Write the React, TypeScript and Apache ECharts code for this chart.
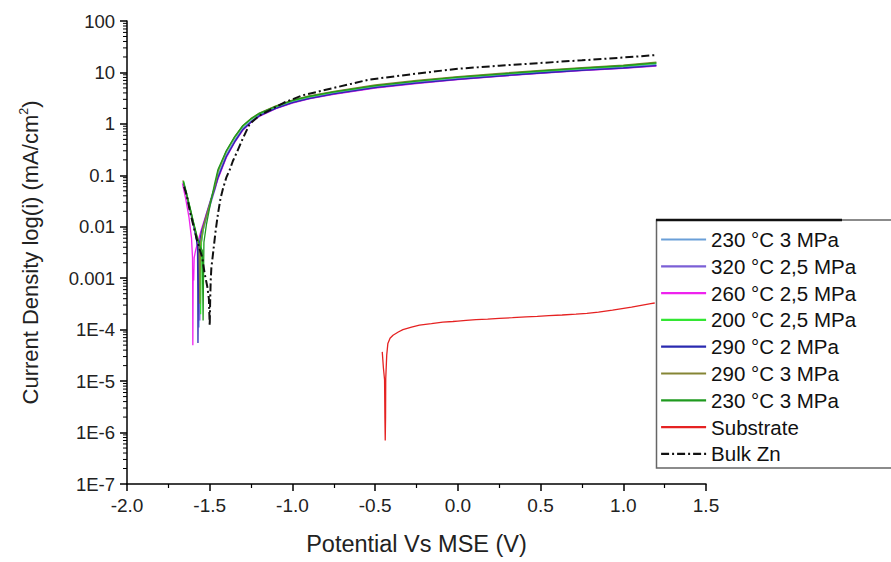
import React, { useEffect, useRef } from "react";
import * as echarts from "echarts";

// ---------- data ----------
const xTickMin = -2.0;
const xTickMax = 1.5;
const xTickStep = 0.5;
const yTickLabels: Record<string, string> = {
  "-7": "1E-7", "-6": "1E-6", "-5": "1E-5", "-4": "1E-4", "-3": "0.001",
  "-2": "0.01", "-1": "0.1", "0": "1", "1": "10", "2": "100",
};
const yMinorMultipliers = [2, 3, 4, 5, 6, 7, 8, 9];
const yDecades = [1e-7, 1e-6, 1e-5, 1e-4, 1e-3, 1e-2, 1e-1, 1, 10];

const upperPotential = [-1.45, -1.40, -1.35, -1.30, -1.25, -1.20, -1.10, -1.00, -0.90, -0.75, -0.50, -0.25, 0.00, 0.25, 0.50, 0.75, 1.00, 1.20];

const lightBlueLower: [number, number][] = [[-1.660, 0.072], [-1.640, 0.04], [-1.620, 0.021], [-1.600, 0.011], [-1.585, 0.0068], [-1.572, 0.0042], [-1.567, 0.0009], [-1.565, 0.00011], [-1.563, 0.0008], [-1.560, 0.0045], [-1.545, 0.0085], [-1.52, 0.018], [-1.49, 0.038], [-1.47, 0.06]];
const lightBlueUpper = [0.1, 0.25, 0.48, 0.82, 1.15, 1.5, 2.1, 2.7, 3.25, 4.0, 5.3, 6.5, 7.7, 8.9, 10.2, 11.5, 12.8, 14.3];

const purpleLower: [number, number][] = [[-1.655, 0.065], [-1.635, 0.036], [-1.615, 0.019], [-1.595, 0.01], [-1.578, 0.0055], [-1.566, 0.0035], [-1.562, 0.0007], [-1.560, 0.00015], [-1.558, 0.0009], [-1.555, 0.004], [-1.54, 0.0085], [-1.51, 0.019], [-1.48, 0.04], [-1.465, 0.058]];
const purpleUpper = [0.09, 0.23, 0.45, 0.78, 1.1, 1.44, 2.02, 2.6, 3.13, 3.85, 5.1, 6.25, 7.4, 8.55, 9.8, 11.05, 12.3, 13.7];

const magentaLower: [number, number][] = [[-1.665, 0.07], [-1.645, 0.035], [-1.625, 0.015], [-1.610, 0.006], [-1.604, 0.0025], [-1.603, 0.0008], [-1.602, 0.00005], [-1.600, 0.0015], [-1.597, 0.0009], [-1.594, 0.0025], [-1.585, 0.0035], [-1.572, 0.005], [-1.55, 0.009], [-1.52, 0.018], [-1.49, 0.036], [-1.47, 0.055]];
const magentaUpper = [0.085, 0.22, 0.43, 0.75, 1.07, 1.4, 1.97, 2.54, 3.06, 3.77, 4.98, 6.1, 7.25, 8.4, 9.6, 10.8, 12.0, 13.3];

const lightGreenLower: [number, number][] = [[-1.658, 0.078], [-1.638, 0.043], [-1.618, 0.023], [-1.598, 0.012], [-1.580, 0.0068], [-1.560, 0.0038], [-1.557, 0.0008], [-1.555, 0.0002], [-1.553, 0.001], [-1.550, 0.005], [-1.535, 0.0105], [-1.51, 0.021], [-1.48, 0.045], [-1.465, 0.066]];
const lightGreenUpper = [0.12, 0.29, 0.54, 0.9, 1.24, 1.57, 2.17, 2.8, 3.37, 4.15, 5.5, 6.75, 8.0, 9.2, 10.5, 11.9, 13.3, 15.0];

const blueLower: [number, number][] = [[-1.656, 0.068], [-1.636, 0.037], [-1.616, 0.02], [-1.596, 0.0105], [-1.582, 0.0062], [-1.574, 0.004], [-1.572, 0.0006], [-1.571, 0.000055], [-1.569, 0.0005], [-1.566, 0.0042], [-1.55, 0.008], [-1.52, 0.017], [-1.49, 0.035], [-1.47, 0.055]];
const blueUpper = [0.09, 0.23, 0.44, 0.77, 1.09, 1.43, 2.0, 2.58, 3.1, 3.82, 5.05, 6.2, 7.35, 8.5, 9.75, 11.0, 12.2, 13.6];

const oliveLower: [number, number][] = [[-1.662, 0.08], [-1.642, 0.045], [-1.622, 0.025], [-1.602, 0.013], [-1.582, 0.0072], [-1.565, 0.0045], [-1.562, 0.0012], [-1.560, 0.00032], [-1.558, 0.0014], [-1.555, 0.005], [-1.54, 0.0098], [-1.51, 0.021], [-1.48, 0.046], [-1.465, 0.068]];
const oliveUpper = [0.12, 0.29, 0.55, 0.92, 1.28, 1.62, 2.25, 2.9, 3.5, 4.3, 5.7, 7.0, 8.3, 9.6, 11.0, 12.4, 13.9, 15.8];

const greenLower: [number, number][] = [[-1.660, 0.076], [-1.640, 0.043], [-1.620, 0.024], [-1.600, 0.013], [-1.580, 0.0072], [-1.560, 0.0042], [-1.545, 0.0035], [-1.542, 0.0006], [-1.540, 0.00015], [-1.538, 0.0008], [-1.535, 0.005], [-1.52, 0.011], [-1.49, 0.035], [-1.47, 0.07]];
const greenUpper = [0.13, 0.30, 0.56, 0.92, 1.26, 1.6, 2.2, 2.85, 3.42, 4.2, 5.55, 6.8, 8.1, 9.3, 10.7, 12.1, 13.5, 15.3];

const substrateData: [number, number][] = [[-0.457, 3.7e-5], [-0.450, 1.8e-5], [-0.443, 1.05e-5], [-0.441, 2e-6], [-0.439, 7e-7], [-0.437, 2e-6], [-0.436, 1.1e-5], [-0.430, 3.2e-5], [-0.423, 5.4e-5], [-0.41, 6.8e-5], [-0.392, 7.8e-5], [-0.36, 9e-5], [-0.332, 1.0e-4], [-0.28, 1.12e-4], [-0.232, 1.23e-4], [-0.16, 1.31e-4], [-0.091, 1.4e-4], [-0.03, 1.44e-4], [0.0, 1.47e-4], [0.05, 1.52e-4], [0.11, 1.57e-4], [0.18, 1.61e-4], [0.25, 1.66e-4], [0.33, 1.71e-4], [0.412, 1.78e-4], [0.48, 1.82e-4], [0.55, 1.88e-4], [0.63, 1.93e-4], [0.714, 2.0e-4], [0.78, 2.08e-4], [0.85, 2.2e-4], [0.935, 2.4e-4], [1.05, 2.75e-4], [1.166, 3.2e-4], [1.19, 3.3e-4]];

const bulkZnData: [number, number][] = [[-1.655, 0.06], [-1.64, 0.042], [-1.62, 0.02], [-1.60, 0.011], [-1.58, 0.006], [-1.56, 0.0036], [-1.545, 0.0025], [-1.53, 0.0012], [-1.515, 0.0007], [-1.505, 0.0004], [-1.500, 0.00012], [-1.497, 0.0004], [-1.494, 0.0009], [-1.49, 0.0016], [-1.48, 0.003], [-1.465, 0.008], [-1.45, 0.018], [-1.435, 0.035], [-1.42, 0.055], [-1.40, 0.09], [-1.378, 0.13], [-1.36, 0.19], [-1.336, 0.28], [-1.30, 0.52], [-1.258, 1.0], [-1.20, 1.45], [-1.137, 1.86], [-1.05, 2.6], [-0.938, 3.6], [-0.75, 5.0], [-0.533, 7.3], [-0.25, 9.5], [0.0, 11.8], [0.25, 13.5], [0.5, 15.3], [0.75, 17.2], [1.0, 19.5], [1.2, 21.8]];

const seriesNames = ["230 °C 3 MPa", "320 °C 2,5 MPa", "260 °C 2,5 MPa", "200 °C 2,5 MPa", "290 °C 2 MPa", "290 °C 3 MPa", "230 °C 3 MPa ", "Substrate", "Bulk Zn"];
const seriesColors = ["#6a9fd8", "#7b5fd6", "#ee22ee", "#33e633", "#2a2ab0", "#858535", "#1f9a1f", "#e52222", "#111111"];

// ---------- chart ----------
const FONT = "'Liberation Sans', Arial, sans-serif";

function joinCurve(lower: [number, number][], upper: number[]): [number, number][] {
  return lower.concat(upperPotential.map((v, i) => [v, upper[i]] as [number, number]));
}

export default function App() {
  const ref = useRef<HTMLDivElement>(null);
  useEffect(() => {
    if (!ref.current) return;
    const chart = echarts.init(ref.current, undefined, { renderer: "svg" });
    const curves: [number, number][][] = [
      joinCurve(lightBlueLower, lightBlueUpper),
      joinCurve(purpleLower, purpleUpper),
      joinCurve(magentaLower, magentaUpper),
      joinCurve(lightGreenLower, lightGreenUpper),
      joinCurve(blueLower, blueUpper),
      joinCurve(oliveLower, oliveUpper),
      joinCurve(greenLower, greenUpper),
      substrateData,
      bulkZnData,
    ];
    const minorTicks: [number, number][] = [];
    yDecades.forEach((d) => yMinorMultipliers.forEach((m) => minorTicks.push([xTickMin, d * m])));

    const lineSeries = curves.map((data, i) => ({
      type: "line",
      name: seriesNames[i],
      data,
      symbol: "none",
      smooth: false,
      clip: false,
      z: i === 8 ? 5 : 3,
      lineStyle: {
        color: seriesColors[i],
        width: i === 8 ? 2 : 1.3,
        type: i === 8 ? [8, 3, 2, 3] : "solid",
      },
      itemStyle: { color: seriesColors[i] },
      emphasis: { disabled: true },
    }));

    const option: any = {
      animation: false,
      backgroundColor: "#ffffff",
      textStyle: { fontFamily: FONT },
      grid: { left: 127, right: 185, top: 21, bottom: 78 },
      xAxis: {
        type: "value",
        min: xTickMin,
        max: xTickMax,
        interval: xTickStep,
        name: "Potential Vs MSE (V)",
        nameLocation: "middle",
        nameGap: 48,
        nameTextStyle: { fontSize: 23.5, color: "#222", fontFamily: FONT },
        axisLine: { onZero: false, lineStyle: { color: "#000", width: 1.5 } },
        axisTick: { show: true, inside: false, length: 7, lineStyle: { color: "#000", width: 1.5 } },
        minorTick: { show: true, splitNumber: 2, length: 4, lineStyle: { color: "#000", width: 1.2 } },
        axisLabel: {
          fontSize: 19, color: "#222", fontFamily: FONT, margin: 12,
          formatter: (v: number) => v.toFixed(1),
        },
        splitLine: { show: false },
        minorSplitLine: { show: false },
      },
      yAxis: {
        type: "log",
        logBase: 10,
        min: 1e-7,
        max: 100,
        splitNumber: 9,
        name: "Current Density log(i) (mA/cm{sup|2})",
        nameLocation: "middle",
        nameGap: 83,
        nameRotate: 90,
        nameTextStyle: {
          fontSize: 22, color: "#222", fontFamily: FONT,
          rich: { sup: { fontSize: 12.5, color: "#222", fontFamily: FONT, verticalAlign: "top", lineHeight: 27 } },
        },
        axisLine: { show: true, onZero: false, lineStyle: { color: "#000", width: 1.5 } },
        axisTick: { show: true, inside: false, length: 7, lineStyle: { color: "#000", width: 1.5 } },
        axisLabel: {
          fontSize: 18.5, color: "#222", fontFamily: FONT, margin: 12,
          formatter: (v: number) => yTickLabels[String(Math.round(Math.log10(v)))] ?? "",
        },
        splitLine: { show: false },
      },
      legend: {
        orient: "vertical",
        left: 660,
        top: 229,
        padding: 0,
        itemWidth: 45,
        itemHeight: 14,
        itemGap: 5.8,
        data: seriesNames,
        selectedMode: false,
        textStyle: { fontSize: 20.5, color: "#111", fontFamily: FONT, lineHeight: 20, padding: [0, 0, 0, 0] },
        itemStyle: { opacity: 0 },
        lineStyle: { width: 2.2 },
      },
      graphic: [
        {
          type: "rect",
          shape: { x: 656.5, y: 220, width: 300, height: 248 },
          style: { fill: "#ffffff", stroke: "#666666", lineWidth: 1.5 },
          z: 0,
          silent: true,
        },
        {
          type: "line",
          shape: { x1: 656, y1: 220, x2: 842, y2: 220 },
          style: { stroke: "#111111", lineWidth: 2.5 },
          z: 1,
          silent: true,
        },
      ],
      series: [
        ...lineSeries,
        {
          type: "custom",
          silent: true,
          clip: false,
          data: minorTicks,
          renderItem: (_p: any, api: any) => {
            const pt = api.coord([api.value(0), api.value(1)]);
            return {
              type: "line",
              shape: { x1: pt[0] - 4, y1: pt[1], x2: pt[0], y2: pt[1] },
              style: { stroke: "#000", lineWidth: 1 },
            };
          },
        },
      ],
    };
    chart.setOption(option);
    return () => chart.dispose();
  }, []);
  return (
    <div
      ref={ref}
      style={{ position: "absolute", left: 0, top: 0, width: 891, height: 562, background: "#fff" }}
    />
  );
}
